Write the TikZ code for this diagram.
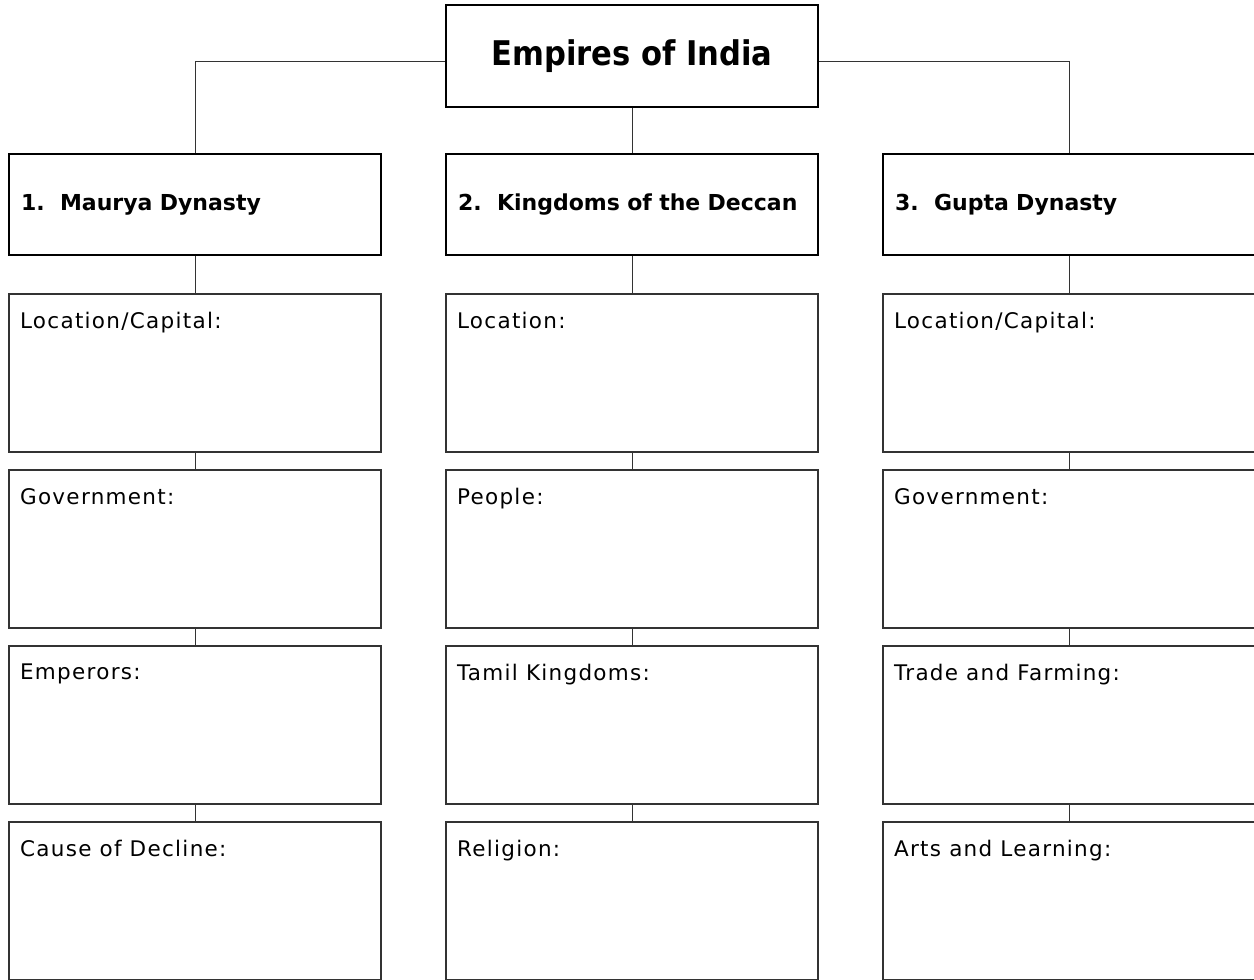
\documentclass[tikz,border=0pt]{standalone}
\usepackage{fontspec}
\setmainfont{DejaVu Sans}
\newfontfamily\titlefont{DejaVu Sans Condensed}
\newfontfamily\cellfont{DejaVu Sans}[LetterSpace=6]
\usetikzlibrary{positioning}

\tikzset{
  title/.style={draw, line width=2.4pt, minimum width=372pt, minimum height=102pt,
    inner sep=0pt, font=\titlefont\bfseries\fontsize{34}{40}\selectfont},
  heading/.style={draw, line width=2.2pt, minimum width=372pt, minimum height=101pt,
    text width=348pt, inner xsep=12pt, align=left,
    font=\bfseries\fontsize{22}{26}\selectfont},
  cell/.style={draw, line width=1.2pt, minimum width=372pt, minimum height=158pt,
    inner sep=0pt, label={[celltext]north west:{#1}}},
  celltext/.style={anchor=north west, inner sep=0pt, xshift=11.5pt, yshift=-18.5pt,
    font=\cellfont\fontsize{21.5}{26}\selectfont},
  link/.style={line width=1pt, draw=black!80},
  straight/.style={edge from parent path={(\tikzparentnode\tikzparentanchor) -- (\tikzchildnode\tikzchildanchor)}},
  sideways/.style={edge from parent path={([yshift=-5pt]\tikzparentnode.#1) -| (\tikzchildnode.north)}},
}

\begin{document}
\begin{tikzpicture}
[x=1pt, y=1pt, sibling distance=437pt, -,
 edge from parent/.style={draw, link},
 level 1/.style={level distance=148.5pt},
 level 2/.style={level distance=168.5pt, straight},
 level 3/.style={level distance=176pt, straight},
 level 4/.style={level distance=176pt, straight},
 level 5/.style={level distance=176pt, straight}]
\useasboundingbox (0,0) rectangle (1254,-980);
\node[title] (india) at (632,-56) {Empires of India}
  child[sideways=west]
  {node[heading] (maurya) {1.\hspace{0.7em}Maurya Dynasty}
    child {node[cell=Location/Capital:] (maurya1) {}
      child {node[cell=Government:] (maurya2) {}
        child {node[cell=Emperors:] (maurya3) {}
          child {node[cell=Cause of Decline:] (maurya4) {}}
        }
      }
    }
  }
  child {node[heading] (deccan) {2.\hspace{0.7em}Kingdoms of the Deccan}
    child {node[cell=Location:] (deccan1) {}
      child {node[cell=People:] (deccan2) {}
        child {node[cell=Tamil Kingdoms:] (deccan3) {}
          child {node[cell=Religion:] (deccan4) {}}
        }
      }
    }
  }
  child[sideways=east]
  {node[heading] (gupta) {3.\hspace{0.7em}Gupta Dynasty}
    child {node[cell=Location/Capital:] (gupta1) {}
      child {node[cell=Government:] (gupta2) {}
        child {node[cell=Trade and Farming:] (gupta3) {}
          child {node[cell=Arts and Learning:] (gupta4) {}}
        }
      }
    }
  };
\end{tikzpicture}
\end{document}
